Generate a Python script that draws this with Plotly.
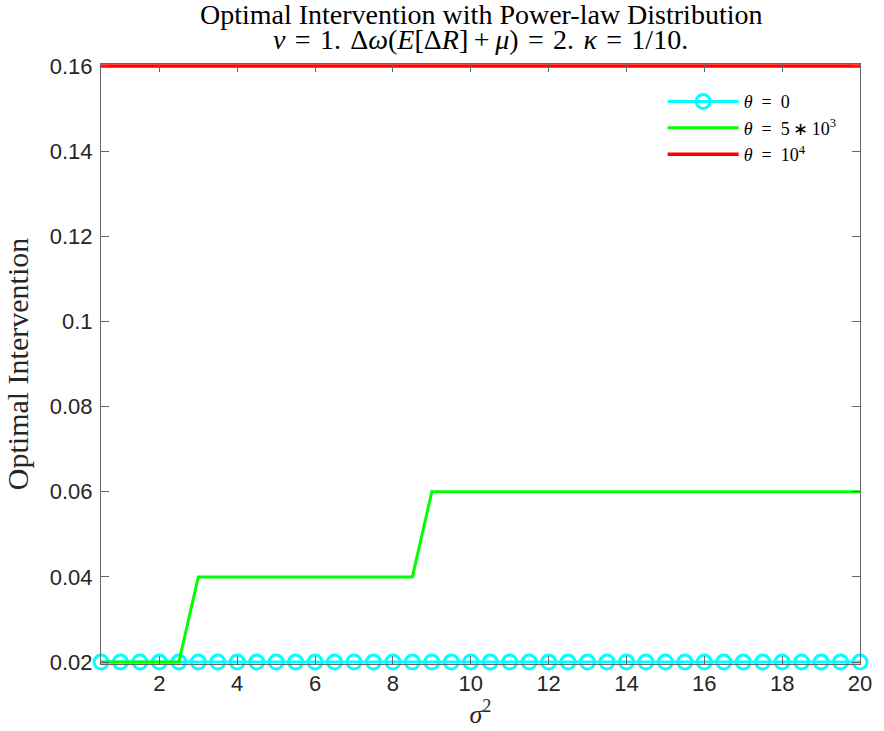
import plotly.graph_objects as go

# sigma^2 grid
sigma2 = [0.5 * k for k in range(1, 41)]

# optimal intervention for each theta
theta0 = [0.02] * 40
theta5e3 = [0.02] * 5 + [0.04] * 12 + [0.06] * 23
theta1e4 = [0.16] * 40

y_ticks = [0.02, 0.04, 0.06, 0.08, 0.10, 0.12, 0.14, 0.16]
y_tick_text = ["0.02", "0.04", "0.06", "0.08", "0.1", "0.12", "0.14", "0.16"]
x_ticks = [2, 4, 6, 8, 10, 12, 14, 16, 18, 20]

sp = "\u2004"  # three-per-em space
title_lines = [
    "Optimal Intervention with Power-law Distribution",
    f"<i>ν</i>{sp}={sp}1.{sp}Δ<i>ω</i>(<i>E</i>[Δ<i>R</i>]\u2009+\u2009<i>μ</i>){sp}={sp}2.{sp}<i>κ</i>{sp}={sp}1/10.",
]

serif = "Liberation Serif, Times New Roman, serif"
sans = "Liberation Sans, Arial, Helvetica, sans-serif"
axis_col = "#666666"
text_col = "#262626"

fig = go.Figure()
fig.add_trace(go.Scatter(
    x=sigma2, y=theta0, mode="lines+markers", name="<i>θ</i>\u2002=\u20020",
    line=dict(color="#00FFFF", width=3),
    marker=dict(symbol="circle-open", size=14, color="#00FFFF", line=dict(width=3)),
    cliponaxis=False,
))
fig.add_trace(go.Scatter(
    x=sigma2, y=theta5e3, mode="lines", name="<i>θ</i>\u2002=\u20025\u2009∗\u200910<sup>3</sup>",
    line=dict(color="#00FF00", width=3),
))
fig.add_trace(go.Scatter(
    x=sigma2, y=theta1e4, mode="lines", name="<i>θ</i>\u2002=\u200210<sup>4</sup>",
    line=dict(color="#FF0000", width=3.5),
))

# two-line title, each line placed on its own
for txt, yy in zip(title_lines, [1.083, 1.040]):
    fig.add_annotation(
        text=txt, xref="paper", yref="paper", x=0.5, y=yy,
        xanchor="center", yanchor="middle", showarrow=False,
        font=dict(family=serif, size=28, color="black"),
    )

fig.update_layout(
    width=884, height=731,
    margin=dict(l=101, r=14, t=64, b=67),
    paper_bgcolor="white", plot_bgcolor="white",
    legend=dict(
        x=0.740, y=0.968, xanchor="left", yanchor="top",
        bgcolor="rgba(0,0,0,0)", borderwidth=0,
        font=dict(family=serif, size=18, color="black"),
        tracegroupgap=0, itemwidth=71,
    ),
    showlegend=True,
)
fig.update_xaxes(
    range=[0.5, 20], tickvals=x_ticks,
    ticks="inside", ticklen=8, tickcolor=axis_col, tickwidth=1,
    showline=True, linecolor=axis_col, linewidth=1, mirror="ticks",
    showgrid=False, zeroline=False,
    tickfont=dict(family=sans, size=22, color=text_col),
    title=dict(text="<i>σ</i><sup>2</sup>", font=dict(family=serif, size=26, color=text_col), standoff=2),
)
fig.update_yaxes(
    range=[0.01955, 0.16045], tickvals=y_ticks, ticktext=y_tick_text,
    ticks="inside", ticklen=8, tickcolor=axis_col, tickwidth=1,
    showline=True, linecolor=axis_col, linewidth=1, mirror="ticks",
    showgrid=False, zeroline=False, ticklabelstandoff=3,
    tickfont=dict(family=sans, size=22, color=text_col),
    title=dict(text="Optimal Intervention", font=dict(family=serif, size=30, color=text_col), standoff=12),
)

fig.write_html("out.html")
